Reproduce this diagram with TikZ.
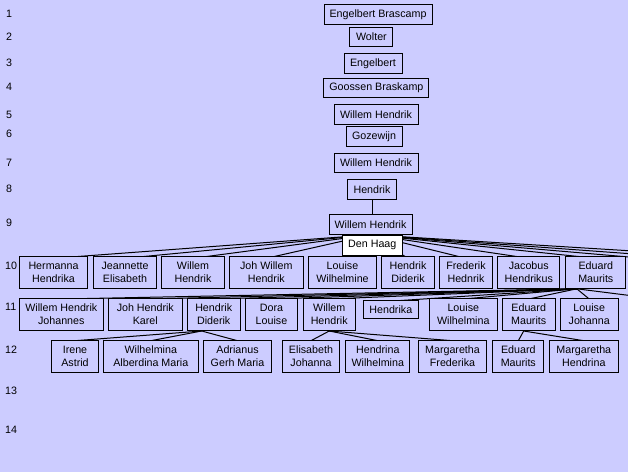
\documentclass[tikz,border=0pt]{standalone}
\usepackage{fontspec}
\setmainfont{Liberation Sans}
\definecolor{bgc}{RGB}{204,204,255}
\pgfdeclarelayer{bg}
\pgfdeclarelayer{lines}
\pgfsetlayers{bg,lines,main}
\tikzset{
 box/.style={draw=black, line width=1pt, fill=bgc, inner sep=0pt, align=center,
   font=\fontsize{10.7}{12.7}\selectfont},
 one/.style={box, minimum height=20pt},
 two/.style={box, minimum height=32pt},
 place/.style={box, fill=white, minimum height=20pt},
 rownum/.style={anchor=west, inner sep=0pt, font=\fontsize{10.7}{12.7}\selectfont},
 link/.style={draw=black, line width=1pt},
}
\begin{document}
\begin{tikzpicture}[x=1pt,y=-1pt]
\useasboundingbox (0,0) rectangle (628,472);
\begin{pgfonlayer}{bg}
\fill[bgc] (0,0) rectangle (628,472);
\end{pgfonlayer}
% row numbers
\node[rownum] (n1) at (6,13.5) {1};
\node[rownum] (n2) at (6,36.7) {2};
\node[rownum] (n3) at (6,63.3) {3};
\node[rownum] (n4) at (6,87.3) {4};
\node[rownum] (n5) at (6,115) {5};
\node[rownum] (n6) at (6,134.3) {6};
\node[rownum] (n7) at (6,162.7) {7};
\node[rownum] (n8) at (6,189) {8};
\node[rownum] (n9) at (6,222.7) {9};
\node[rownum] (n10) at (5,265.7) {10};
\node[rownum] (n11) at (5,306.7) {11};
\node[rownum] (n12) at (5,349.3) {12};
\node[rownum] (n13) at (5,391) {13};
\node[rownum] (n14) at (5,430) {14};
% ancestors
\node[one, minimum width=108pt] (eb) at (378,14.3) {Engelbert Brascamp};
\node[one, minimum width=43pt, minimum height=19pt] (wo) at (371.4,36.8) {Wolter};
\node[one, minimum width=58pt] (en) at (373,63.3) {Engelbert};
\node[one, minimum width=105pt, minimum height=19.4pt] (gb) at (376.4,88) {Goossen Braskamp};
\node[one, minimum width=84pt] (wh5) at (376,114.3) {Willem Hendrik};
\node[one, minimum width=56pt] (gz) at (374,136.3) {Gozewijn};
\node[one, minimum width=84pt, minimum height=19pt] (wh7) at (376,162.8) {Willem Hendrik};
\node[one, minimum width=49pt] (hk8) at (372,189.3) {Hendrik};
\node[one, minimum width=83pt] (wh9) at (370.5,224.3) {Willem Hendrik};
% row 10
\node[two, minimum width=68.4pt] (a1) at (53.5,272.3) {Hermanna\\Hendrika};
\node[two, minimum width=63.4pt] (a2) at (125,272.3) {Jeannette\\Elisabeth};
\node[two, minimum width=62.6pt] (a3) at (193,272.3) {Willem\\Hendrik};
\node[two, minimum width=74pt] (a4) at (266.3,272.3) {Joh Willem\\Hendrik};
\node[two, minimum width=68.4pt] (a5) at (342.5,272.3) {Louise\\Wilhelmine};
\node[two, minimum width=52.6pt] (a6) at (408,272.3) {Hendrik\\Diderik};
\node[two, minimum width=53.4pt] (a7) at (466,272.3) {Frederik\\Hednrik};
\node[two, minimum width=62.3pt] (a8) at (528.8,272.3) {Jacobus\\Hendrikus};
\node[two, minimum width=60.3pt] (a9) at (595.8,272.3) {Eduard\\Maurits};
% row 11
\node[two, minimum width=84pt] (b1) at (61.3,314.5) {Willem Hendrik\\Johannes};
\node[two, minimum width=74pt] (b2) at (145.3,314.5) {Joh Hendrik\\Karel};
\node[two, minimum width=52.7pt] (b3) at (213.7,314.5) {Hendrik\\Diderik};
\node[two, minimum width=51.6pt] (b4) at (271.5,314.5) {Dora\\Louise};
\node[two, minimum width=51.7pt] (b5) at (329.2,314.5) {Willem\\Hendrik};
\node[box, minimum width=55pt, minimum height=18.3pt] (b6) at (390.8,309.8) {Hendrika};
\node[two, minimum width=68pt] (b7) at (463.3,314.5) {Louise\\Wilhelmina};
\node[two, minimum width=52.7pt] (b8) at (528.7,314.5) {Eduard\\Maurits};
\node[two, minimum width=58.3pt] (b9) at (589.2,314.5) {Louise\\Johanna};
% row 12
\node[two, minimum width=46.6pt] (c1) at (75,356.2) {Irene\\Astrid};
\node[two, minimum width=95pt] (c2) at (150.8,356.2) {Wilhelmina\\Alberdina Maria};
\node[two, minimum width=68.4pt] (c3) at (237.5,356.2) {Adrianus\\Gerh Maria};
\node[two, minimum width=57pt] (c4) at (311,356.2) {Elisabeth\\Johanna};
\node[two, minimum width=64.3pt] (c5) at (377.8,356.2) {Hendrina\\Wilhelmina};
\node[two, minimum width=68.4pt] (c6) at (452.5,356.2) {Margaretha\\Frederika};
\node[two, minimum width=51.3pt] (c7) at (518.3,356.2) {Eduard\\Maurits};
\node[two, minimum width=69pt] (c8) at (583.8,356.2) {Margaretha\\Hendrina};
% place label
\node[place, minimum width=60pt] (dh) at (372.3,245) {Den Haag};
% children beyond the right edge
\coordinate (x1) at (650,258.8);
\coordinate (x2) at (700,258.8);
\coordinate (x3) at (760,258.8);
\coordinate (x4) at (660,299.3);
% connectors (ends slightly inside the boxes, hidden by their fill)
\begin{pgfonlayer}{lines}
\draw[link] (hk8.south) -- (hk8.south |- wh9.north);
\foreach \c in {a1,a2,a3,a4,a5,a6,a7,a8,a9}
  \draw[link] (wh9.south) -- ([yshift=-2.5pt]\c.north);
\foreach \c in {x1,x2,x3}
  \draw[link] (wh9.south) -- (\c);
\foreach \c in {b1,b2,b3,b4,b5,b6,b7,b8,b9}
  \draw[link] ([xshift=-19pt]a9.south) -- ([yshift=-1pt]\c.north);
\draw[link] ([xshift=-19pt]a9.south) -- (x4);
\foreach \c in {c1,c2,c3}
  \draw[link] ([xshift=-12pt]b3.south) -- ([yshift=-1pt]\c.north);
\foreach \c in {c4,c5,c6}
  \draw[link] (b5.south) -- ([yshift=-1pt]\c.north);
\foreach \c in {c7,c8}
  \draw[link] ([xshift=-5pt]b8.south) -- ([yshift=-1pt]\c.north);
\end{pgfonlayer}
\end{tikzpicture}
\end{document}
